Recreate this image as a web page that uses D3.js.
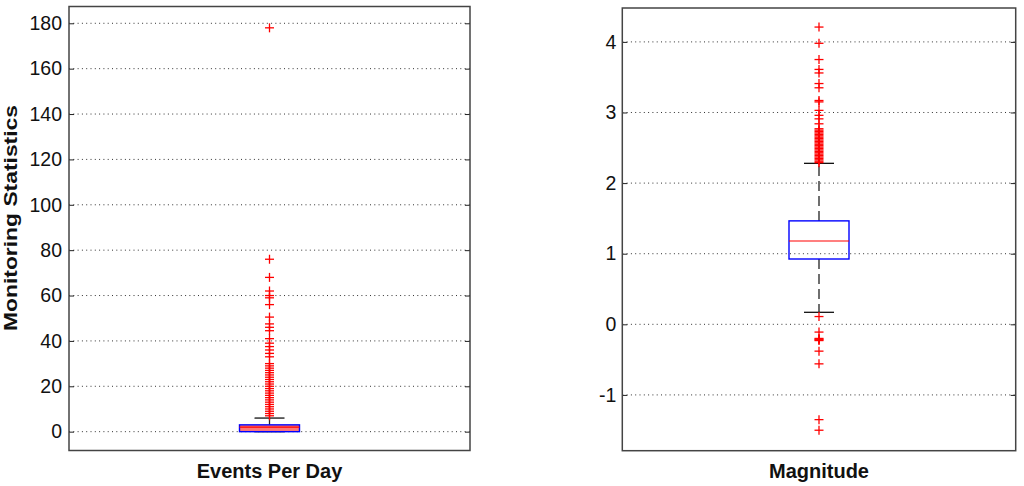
<!DOCTYPE html>
<html>
<head>
<meta charset="utf-8">
<script src="https://cdn.jsdelivr.net/npm/d3@7"></script>
<style>
  html, body { margin: 0; padding: 0; background: #fff; }
  svg { display: block; }
  text { font-family: "Liberation Sans", Arial, Helvetica, sans-serif; fill: #111; }
</style>
</head>
<body>
<svg id="chart" width="1024" height="486"></svg>
<script>
// ---------- data ----------
const categories = ["Events Per Day", "Magnitude"];
const yLabel = "Monitoring Statistics";

// box statistics: [lowerWhisker, q1, median, q3, upperWhisker]
const eventsStats = [0, 0, 2, 3, 6];
const magnitudeStats = [0.17, 0.925, 1.18, 1.465, 2.28];

const eventsOutliers = [178, 76, 68, 62, 60, 59, 56, 50.5, 47.5, 46, 44.5, 41, 39, 37.5, 36, 34.5, 33,
  30, 29, 28, 27, 26, 25, 24, 23, 22, 21, 20, 19, 18, 17, 16, 15, 14, 13, 12, 11, 10, 9, 8, 7];

const magnitudeOutliers = [4.21, 3.98, 3.75, 3.61, 3.56, 3.41, 3.35, 3.17, 3.15, 3.03, 2.96, 2.91, 2.84, 2.77,
  2.75, 2.73, 2.71, 2.69, 2.67, 2.65, 2.63, 2.61, 2.59, 2.57, 2.55, 2.53, 2.51, 2.49, 2.47, 2.45,
  2.43, 2.41, 2.39, 2.37, 2.35, 2.33, 2.31, 2.29,
  0.11, -0.11, -0.2, -0.21, -0.22, -0.23, -0.38, -0.56, -1.35, -1.5];

const eventsTicks = [0, 20, 40, 60, 80, 100, 120, 140, 160, 180];
const magnitudeTicks = [-1, 0, 1, 2, 3, 4];

const eventsDomain = [-8.3, 187.4];
const magnitudeDomain = [-1.79, 4.48];

// ---------- drawing ----------
const svg = d3.select("#chart");

function drawPanel(cfg) {
  const { x0, x1, y0, y1, domain, ticks, stats, outliers, label, fillBox, pad } = cfg;
  const g = svg.append("g");
  const y = d3.scaleLinear().domain(domain).range([y1, y0]);
  const x = d3.scaleBand().domain([label]).range([x0, x1]);
  const cx = x(label) + x.bandwidth() / 2;
  const boxHalf = 30;
  const capHalf = 15;

  // grid lines (dotted)
  g.selectAll("line.grid").data(ticks).enter().append("line")
    .attr("x1", x0).attr("x2", x1)
    .attr("y1", d => y(d)).attr("y2", d => y(d))
    .attr("stroke", "#333").attr("stroke-width", 1)
    .attr("stroke-dasharray", "1,3.3");

  // left axis with inward ticks
  const axL = d3.axisLeft(y).tickValues(ticks).tickSizeInner(-5).tickSizeOuter(0).tickPadding(pad)
    .tickFormat(d => String(d));
  const gL = g.append("g").attr("transform", `translate(${x0},0)`).call(axL);
  gL.select(".domain").remove();
  gL.selectAll(".tick line").attr("stroke", "#222");
  gL.selectAll(".tick text").style("font-size", "19.5px").style("font-family", "'Liberation Sans', Arial, sans-serif").attr("fill", "#111");

  const axR = d3.axisRight(y).tickValues(ticks).tickSizeInner(-5).tickSizeOuter(0).tickFormat("");
  const gR = g.append("g").attr("transform", `translate(${x1},0)`).call(axR);
  gR.select(".domain").remove();
  gR.selectAll(".tick line").attr("stroke", "#222");

  const [lw, q1, med, q3, uw] = stats;

  // whiskers (dashed)
  g.append("line").attr("x1", cx).attr("x2", cx).attr("y1", y(q3)).attr("y2", y(uw))
    .attr("stroke", "#222").attr("stroke-width", 1.3).attr("stroke-dasharray", "10,5");
  g.append("line").attr("x1", cx).attr("x2", cx).attr("y1", y(q1)).attr("y2", y(lw))
    .attr("stroke", "#222").attr("stroke-width", 1.3).attr("stroke-dasharray", "10,5");
  // caps
  [uw, lw].forEach(v => {
    g.append("line").attr("x1", cx - capHalf).attr("x2", cx + capHalf)
      .attr("y1", y(v)).attr("y2", y(v))
      .attr("stroke", "#111").attr("stroke-width", 1.3);
  });

  // box
  g.append("rect").attr("x", cx - boxHalf).attr("y", y(q3))
    .attr("width", boxHalf * 2).attr("height", y(q1) - y(q3))
    .attr("fill", fillBox ? "#f77" : "none")
    .attr("stroke", "#0000ff").attr("stroke-width", 1.4);
  // median
  g.append("line").attr("x1", cx - boxHalf).attr("x2", cx + boxHalf)
    .attr("y1", y(med)).attr("y2", y(med))
    .attr("stroke", "#ff0000").attr("stroke-width", 1.2);

  // outliers
  const s = 4.5;
  const pts = g.selectAll("g.out").data(outliers).enter().append("g")
    .attr("transform", d => `translate(${cx},${y(d)})`);
  pts.append("line").attr("x1", -s).attr("x2", s).attr("y1", 0).attr("y2", 0)
    .attr("stroke", "#ff0000").attr("stroke-width", 1.3);
  pts.append("line").attr("x1", 0).attr("x2", 0).attr("y1", -s).attr("y2", s)
    .attr("stroke", "#ff0000").attr("stroke-width", 1.3);

  // frame
  g.append("rect").attr("x", x0).attr("y", y0).attr("width", x1 - x0).attr("height", y1 - y0)
    .attr("fill", "none").attr("stroke", "#444").attr("stroke-width", 1.5);

  // category label
  g.append("text").attr("x", cx).attr("y", 478).attr("text-anchor", "middle")
    .style("font-size", "20px").style("font-weight", "bold").text(label);
}

drawPanel({ x0: 69, x1: 470, y0: 6.5, y1: 450.5, domain: eventsDomain, ticks: eventsTicks,
  stats: eventsStats, outliers: eventsOutliers, label: categories[0], fillBox: true, pad: 7 });
drawPanel({ x0: 622.3, x1: 1015.7, y0: 8, y1: 450.7, domain: magnitudeDomain, ticks: magnitudeTicks,
  stats: magnitudeStats, outliers: magnitudeOutliers, label: categories[1], fillBox: false, pad: 6 });

svg.append("text")
  .attr("transform", "translate(17,218) rotate(-90)")
  .attr("text-anchor", "middle")
  .attr("textLength", 226).attr("lengthAdjust", "spacingAndGlyphs")
  .style("font-size", "18px").style("font-weight", "bold")
  .text(yLabel);
</script>
</body>
</html>
